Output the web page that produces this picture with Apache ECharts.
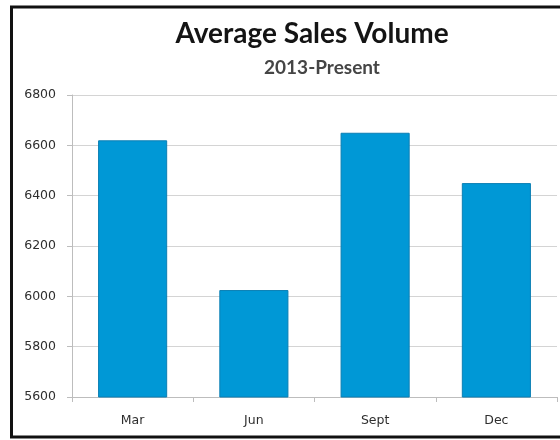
<!DOCTYPE html>
<html>
<head>
<meta charset="utf-8">
<script src="https://cdn.jsdelivr.net/npm/echarts@6/dist/echarts.min.js"></script>
<style>html,body{margin:0;padding:0;background:#fff}#c{width:560px;height:440px}</style>
</head>
<body>
<div id="c"></div>
<script>
const categories = ['Mar', 'Jun', 'Sept', 'Dec'];
const salesVolume = [6620, 6025, 6650, 6450];
const yTicks = [5600, 5800, 6000, 6200, 6400, 6600, 6800];
const titleText = 'Average Sales Volume';
const subtitleText = '2013-Present';

const chart = echarts.init(document.getElementById('c'), null, {renderer: 'canvas'});
chart.setOption({
  animation: false,
  backgroundColor: '#fff',
  title: [{
    text: titleText,
    left: 307,
    textAlign: 'center',
    top: 15,
    textStyle: {fontFamily: 'Lato', fontWeight: 'bold', fontSize: 28, color: '#141414'}
  }, {
    text: subtitleText,
    left: 317,
    textAlign: 'center',
    top: 53,
    textStyle: {fontFamily: 'Lato', fontWeight: 'bold', fontSize: 19, color: '#454545'}
  }],
  grid: {left: 72, right: 3, top: 95, bottom: 43, containLabel: false},
  xAxis: {
    type: 'category',
    data: categories,
    axisLine: {lineStyle: {color: '#bdbdbd', width: 1}},
    axisTick: {show: true, length: 5, lineStyle: {color: '#bdbdbd'}},
    axisLabel: {margin: 17, fontFamily: 'DejaVu Sans', fontSize: 12.5, color: '#2e2e2e'}
  },
  yAxis: {
    type: 'value',
    min: yTicks[0],
    max: yTicks[yTicks.length - 1],
    interval: 200,
    axisLine: {show: true, lineStyle: {color: '#bdbdbd', width: 1}},
    axisTick: {show: true, length: 5, lineStyle: {color: '#bdbdbd'}},
    axisLabel: {margin: 16, fontFamily: 'DejaVu Sans', fontSize: 12.5, color: '#2e2e2e',
      formatter: function (v) { return String(v); }},
    splitLine: {lineStyle: {color: '#d4d4d4', width: 1}}
  },
  series: [{
    type: 'bar',
    data: salesVolume,
    barWidth: '57%',
    itemStyle: {color: '#0098d6', borderColor: '#0b7fb4', borderWidth: 1}
  }],
  graphic: [{
    type: 'rect',
    shape: {x: 11.5, y: 7, width: 600, height: 430},
    style: {fill: 'none', stroke: '#111', lineWidth: 3},
    silent: true,
    z: 100
  }]
});
</script>
</body>
</html>
